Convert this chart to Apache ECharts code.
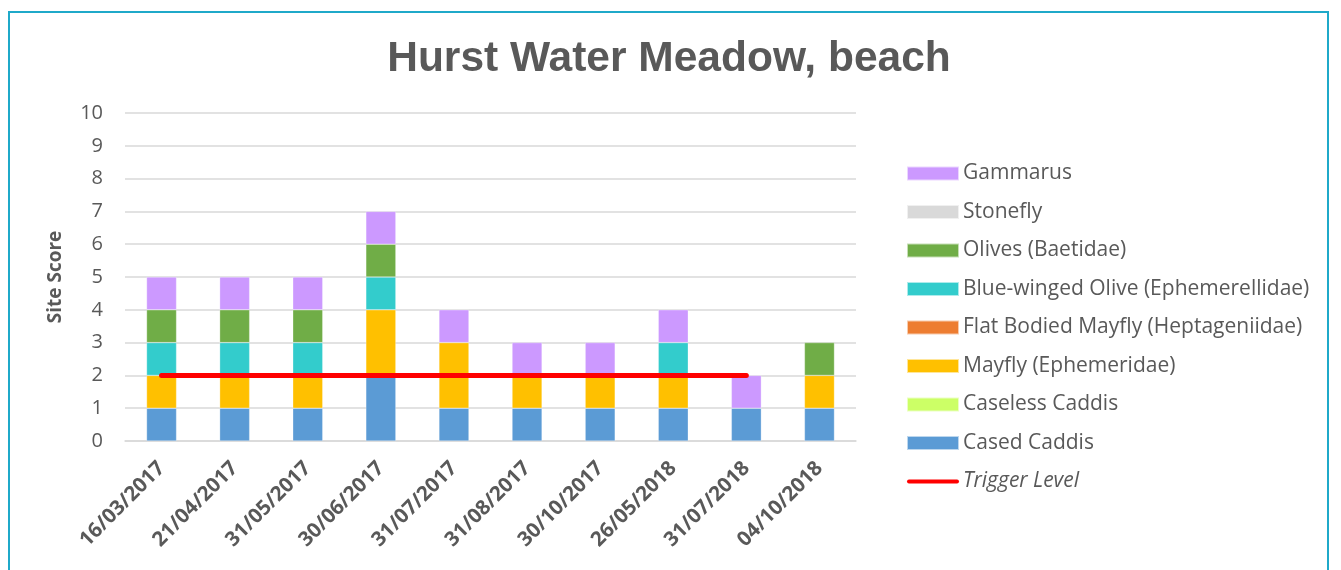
<!DOCTYPE html>
<html><head><meta charset="utf-8">
<script src="https://cdn.jsdelivr.net/npm/echarts@6/dist/echarts.min.js"></script>
<style>
html,body{margin:0;padding:0;background:#fff;}
#frame{position:absolute;left:8px;top:11px;width:1321px;height:600px;border:2px solid #1fa9c9;box-sizing:border-box;}
#c{position:absolute;left:0;top:0;width:1341px;height:570px;}
</style></head>
<body>
<div id="frame"></div>
<div id="c"></div>
<script>
const categories = ['16/03/2017','21/04/2017','31/05/2017','30/06/2017','31/07/2017','31/08/2017','30/10/2017','26/05/2018','31/07/2018','04/10/2018'];
const casedCaddis   = [1,1,1,2,1,1,1,1,1,1];
const caselessCaddis= [0,0,0,0,0,0,0,0,0,0];
const mayfly        = [1,1,1,2,2,1,1,1,0,1];
const flatBodied    = [0,0,0,0,0,0,0,0,0,0];
const blueWinged    = [1,1,1,1,0,0,0,1,0,0];
const olives        = [1,1,1,1,0,0,0,0,0,1];
const stonefly      = [0,0,0,0,0,0,0,0,0,0];
const gammarus      = [1,1,1,1,1,1,1,1,1,0];
const triggerLevel  = [2,2,2,2,2,2,2,2,2,null];
const yTicks = [0,10,1];

const barSeries = [
  ['Cased Caddis', casedCaddis, '#5b9bd5'],
  ['Caseless Caddis', caselessCaddis, '#ccff66'],
  ['Mayfly (Ephemeridae)', mayfly, '#ffc000'],
  ['Flat Bodied Mayfly (Heptageniidae)', flatBodied, '#ed7d31'],
  ['Blue-winged Olive (Ephemerellidae)', blueWinged, '#33cccc'],
  ['Olives (Baetidae)', olives, '#70ad47'],
  ['Stonefly', stonefly, '#d9d9d9'],
  ['Gammarus', gammarus, '#cc99ff']
].map(([name, data, color]) => ({
  name, type:'bar', stack:'s', data: data.map(v => v === 0 ? null : v), barWidth: 30,
  itemStyle:{color, borderColor:'rgba(255,255,255,0.6)', borderWidth:0.5},
  emphasis:{disabled:true}
}));

const series = barSeries.concat([{
  name:'Trigger Level', type:'line', data: triggerLevel, symbol:'none',
  lineStyle:{color:'#ff0000', width:5, cap:'round'}, itemStyle:{color:'#ff0000'}, z:10
}]);

const legendOrder = ['Gammarus','Stonefly','Olives (Baetidae)','Blue-winged Olive (Ephemerellidae)','Flat Bodied Mayfly (Heptageniidae)','Mayfly (Ephemeridae)','Caseless Caddis','Cased Caddis','Trigger Level'];

const chart = echarts.init(document.getElementById('c'), null, {renderer:'canvas'});
chart.setOption({
  animation:false,
  title:{text:'Hurst Water Meadow, beach', left:664, top:33, textAlign:'center',
    textStyle:{fontFamily:'Liberation Sans, Arial', fontSize:42.5, fontWeight:'bold', color:'#595959'}},
  grid:{left:125, right:485, top:113, bottom:129},
  legend:{orient:'vertical', left:901, top:158, itemWidth:52, itemHeight:14, itemGap:17.5,
    data: legendOrder.map(n => n === 'Trigger Level'
      ? {name:n, icon:'path://M2,0 L50,0 A2,2 0 0 1 50,4 L2,4 A2,2 0 0 1 2,0 Z', itemStyle:{color:'#ff0000'}, textStyle:{fontStyle:'italic'}}
      : {name:n, icon:'rect'}),
    textStyle:{fontFamily:'Open Sans, Noto Sans', fontSize:21, color:'#595959', padding:[0,0,0,-1]}},
  xAxis:{type:'category', data:categories,
    axisLine:{lineStyle:{color:'#d9d9d9', width:1.5}}, axisTick:{show:false},
    axisLabel:{rotate:45, interval:0, fontFamily:'Open Sans, Noto Sans', fontWeight:'bold', fontSize:20.5, color:'#595959', margin:24}},
  yAxis:{type:'value', min:yTicks[0], max:yTicks[1], interval:yTicks[2],
    name:'Site Score', nameLocation:'middle', nameGap:60, nameRotate:90,
    nameTextStyle:{fontFamily:'Open Sans, Noto Sans', fontWeight:'bold', fontSize:19, color:'#595959'},
    axisLine:{show:false}, axisTick:{show:false},
    axisLabel:{fontFamily:'Open Sans, Noto Sans', fontSize:20, color:'#595959', margin:22},
    splitLine:{lineStyle:{color:'#d9d9d9', width:1.5}}},
  series
});
</script>
</body></html>
